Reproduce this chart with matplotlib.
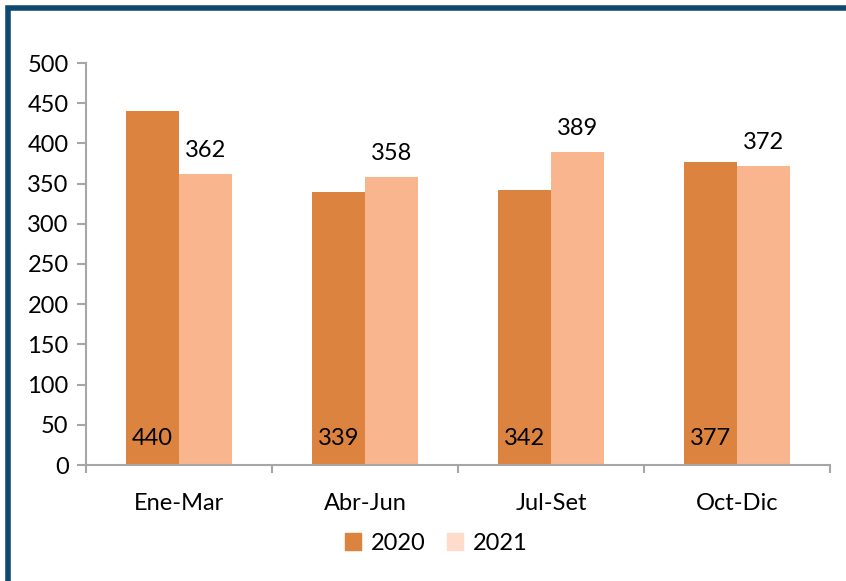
import numpy as np
import matplotlib.pyplot as plt
from matplotlib.patches import Patch, Rectangle

# ---------------------------
# DATA
# ---------------------------
quarters = ["Ene-Mar", "Abr-Jun", "Jul-Set", "Oct-Dic"]
vals_2020 = [440, 339, 342, 377]
vals_2021 = [362, 358, 389, 372]
series_names = ["2020", "2021"]

c2020 = "#DC843F"
c2021 = "#F8B58E"
c2021_legend = "#FDDCCB"
axis_gray = "#A6A6A6"
border_blue = "#0E4A70"

plt.rcParams["font.family"] = ["Lato", "DejaVu Sans"]
fs = 17

fig = plt.figure(figsize=(8.46, 5.81), dpi=100)
ax = fig.add_axes([86 / 846, 1 - 465 / 581, (830 - 86) / 846, (465 - 63) / 581])

x = np.arange(len(quarters))
w = 0.285
ax.bar(x - w / 2, vals_2020, w, color=c2020)
ax.bar(x + w / 2, vals_2021, w, color=c2021)

# labels: 2020 inside base, 2021 above bar
for xi, v in zip(x - w / 2, vals_2020):
    ax.annotate(str(v), (xi, 0), xytext=(0, 19.4), textcoords="offset points",
                ha="center", va="center", fontsize=fs, color="black")
for xi, v in zip(x + w / 2, vals_2021):
    ax.annotate(str(v), (xi, v), xytext=(0, 12.3), textcoords="offset points",
                ha="center", va="baseline", fontsize=fs, color="black")

ax.set_xlim(-0.5, len(quarters) - 0.5)
ax.set_ylim(0, 500)
ax.set_yticks(range(0, 501, 50))
ax.set_xticks(x)
ax.set_xticklabels(quarters)
ax.set_xticks(np.arange(-0.5, len(quarters), 1.0), minor=True)
ax.tick_params(axis="x", which="major", length=0, pad=20, labelsize=fs)
ax.tick_params(axis="x", which="minor", length=6, width=1.5, color=axis_gray, direction="out")
ax.tick_params(axis="y", length=6.5, width=1.5, color=axis_gray, pad=6, labelsize=fs)

for s in ["top", "right"]:
    ax.spines[s].set_visible(False)
for s in ["left", "bottom"]:
    ax.spines[s].set_color(axis_gray)
    ax.spines[s].set_linewidth(1.5)

handles = [Patch(color=c2020, label=series_names[0]),
           Patch(color=c2021_legend, label=series_names[1])]
fig.legend(handles=handles, loc="center", bbox_to_anchor=(436 / 846, 1 - 543 / 581),
           ncol=2, frameon=False, fontsize=fs, handlelength=0.7, handleheight=0.7,
           handletextpad=0.4, columnspacing=0.9)

# frame border (only top and left visible in the crop)
fig.add_artist(Rectangle((8 / 846, -0.1), 1.2, 1.1 - 8 / 581, transform=fig.transFigure,
                         fill=False, edgecolor=border_blue, linewidth=4))

fig.savefig("out.png", dpi=100)
